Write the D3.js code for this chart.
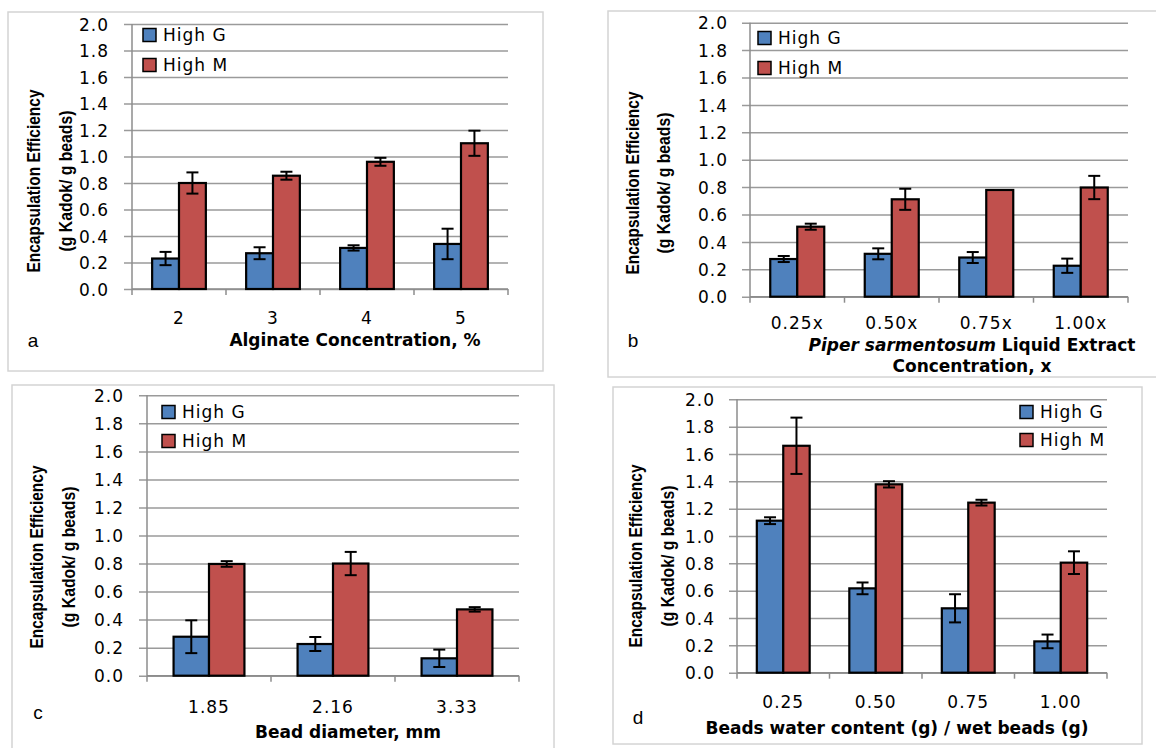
<!DOCTYPE html>
<html>
<head>
<meta charset="utf-8">
<script src="https://cdn.jsdelivr.net/npm/d3@7"></script>
<style>
  html, body { margin: 0; padding: 0; background: #fff; }
  .tick-txt { font-family: "DejaVu Sans", Verdana, sans-serif; font-size: 17px; letter-spacing: 1px; fill: #000; }
  .ax-title { font-family: "DejaVu Sans", Verdana, sans-serif; font-size: 17px; font-weight: bold; fill: #000; }
  .y-title { font-family: "Liberation Sans Narrow", "Arial Narrow", "Liberation Sans", sans-serif; font-size: 19px; font-weight: bold; fill: #000; }
  .panel-lbl { font-family: "Liberation Sans", Arial, sans-serif; font-size: 19px; fill: #000; }
</style>
</head>
<body>
<div id="chart"></div>
<script>
// series
var series_names= ["High G", "High M"];
var series_colors= ["#4F81BD", "#C0504D"];

// y ticks shared by all four panels
var y_ticks= [0.0, 0.2, 0.4, 0.6, 0.8, 1.0, 1.2, 1.4, 1.6, 1.8, 2.0];

// a - alginate concentration
var cats_a= ["2", "3", "4", "5"];
var high_g_a= [0.23, 0.27, 0.31, 0.34];
var high_m_a= [0.80, 0.855, 0.96, 1.10];
var err_g_a= [0.05, 0.045, 0.02, 0.115];
var err_m_a= [0.08, 0.03, 0.03, 0.095];

// b - extract concentration
var cats_b= ["0.25x", "0.50x", "0.75x", "1.00x"];
var high_g_b= [0.275, 0.313, 0.286, 0.226];
var high_m_b= [0.511, 0.711, 0.779, 0.797];
var err_g_b= [0.022, 0.04, 0.04, 0.052];
var err_m_b= [0.022, 0.077, 0, 0.085];

// c - bead diameter
var cats_c= ["1.85", "2.16", "3.33"];
var high_g_c= [0.278, 0.226, 0.124];
var high_m_c= [0.797, 0.80, 0.473];
var err_g_c= [0.117, 0.05, 0.062];
var err_m_c= [0.02, 0.083, 0.016];

// d - water content
var cats_d= ["0.25", "0.50", "0.75", "1.00"];
var high_g_d= [1.112, 0.617, 0.471, 0.229];
var high_m_d= [1.66, 1.378, 1.244, 0.805];
var err_g_d= [0.025, 0.043, 0.103, 0.05];
var err_m_d= [0.206, 0.023, 0.021, 0.083];


var svg= d3.select("#chart")
		.append("svg")
		.attr("width", 1156)
		.attr("height", 748);

svg.append("rect").attr("width", 1156).attr("height", 748).attr("fill", "#fff");

function draw_panel(p) {

	var g= svg.append("g");

	// outer frame
	g.append("rect")
		.attr("x", p.frame[0])
		.attr("y", p.frame[1])
		.attr("width", p.frame[2]- p.frame[0])
		.attr("height", p.frame[3]- p.frame[1])
		.attr("fill", "none")
		.attr("stroke", "#d4d4d4")
		.attr("stroke-width", 1.5);

	var y= d3.scaleLinear().domain([0, 2]).range([p.y0, p.y1]);
	var x= d3.scaleBand().domain(p.cats).range([p.x0, p.x1]).paddingInner(0).paddingOuter(0);

	var group_w= x.bandwidth()/ 1.75;
	var xs= d3.scaleBand().domain([0, 1]).range([-group_w/ 2, group_w/ 2]);

	// gridlines + y ticks
	var y_axis= d3.axisLeft(y)
		.tickValues(y_ticks)
		.tickSize(-(p.x1- p.x0))
		.tickFormat(d3.format(".1f"));

	var ya= g.append("g")
		.attr("transform", "translate(" + p.x0 + ",0)")
		.call(y_axis);
	ya.select(".domain").remove();
	ya.selectAll(".tick line")
		.attr("x1", -8)
		.attr("stroke", "#9a9a9a")
		.attr("stroke-width", 1.5);
	ya.selectAll(".tick text")
		.attr("class", "tick-txt")
		.attr("x", p.ylab_x- p.x0+ 1)
		.attr("dy", "0.36em");

	// y axis line
	g.append("line")
		.attr("x1", p.x0).attr("x2", p.x0)
		.attr("y1", p.y1).attr("y2", p.y0)
		.attr("stroke", "#8c8c8c").attr("stroke-width", 1.5);

	// x axis line + ticks between categories
	var x_axis= d3.axisBottom(x).tickSize(0).tickFormat("");
	var xa= g.append("g")
		.attr("transform", "translate(0," + p.y0 + ")")
		.call(x_axis);
	xa.select(".domain")
		.attr("d", "M" + p.x0 + ",0H" + p.x1)
		.attr("stroke", "#8c8c8c").attr("stroke-width", 1.5);

	var bounds= p.cats.map(function(c) { return x(c); }).concat([p.x1]);
	g.selectAll(".xtick")
		.data(bounds)
		.enter().append("line")
		.attr("x1", function(d) { return d; })
		.attr("x2", function(d) { return d; })
		.attr("y1", p.y0)
		.attr("y2", p.y0+ 6)
		.attr("stroke", "#8c8c8c").attr("stroke-width", 1.5);

	g.selectAll(".xlab")
		.data(p.cats)
		.enter().append("text")
		.attr("class", "tick-txt")
		.attr("x", function(d) { return x(d)+ x.bandwidth()/ 2; })
		.attr("y", p.xlab_y)
		.attr("dy", "0.36em")
		.attr("text-anchor", "middle")
		.text(function(d) { return d; });

	// bars
	var rows= [];
	p.cats.forEach(function(c, i) {
		rows.push({cat: c, s: 0, v: p.g[i], e: p.eg[i]});
		rows.push({cat: c, s: 1, v: p.m[i], e: p.em[i]});
	});

	g.selectAll(".bar")
		.data(rows)
		.enter().append("rect")
		.attr("x", function(d) { return x(d.cat)+ x.bandwidth()/ 2+ xs(d.s); })
		.attr("y", function(d) { return y(d.v); })
		.attr("width", xs.bandwidth())
		.attr("height", function(d) { return y(0)- y(d.v); })
		.attr("fill", function(d) { return series_colors[d.s]; })
		.attr("stroke", "#000")
		.attr("stroke-width", 2.2);

	// error bars
	var errs= rows.filter(function(d) { return d.e> 0; });
	var ex= function(d) { return x(d.cat)+ x.bandwidth()/ 2+ xs(d.s)+ xs.bandwidth()/ 2; };
	var eb= g.selectAll(".err")
		.data(errs)
		.enter().append("g")
		.attr("stroke", "#000")
		.attr("stroke-width", 2);
	eb.append("line")
		.attr("x1", ex).attr("x2", ex)
		.attr("y1", function(d) { return y(d.v+ d.e); })
		.attr("y2", function(d) { return y(d.v- d.e); });
	eb.append("line")
		.attr("x1", function(d) { return ex(d)- 6; })
		.attr("x2", function(d) { return ex(d)+ 6; })
		.attr("y1", function(d) { return y(d.v+ d.e); })
		.attr("y2", function(d) { return y(d.v+ d.e); });
	eb.append("line")
		.attr("x1", function(d) { return ex(d)- 6; })
		.attr("x2", function(d) { return ex(d)+ 6; })
		.attr("y1", function(d) { return y(d.v- d.e); })
		.attr("y2", function(d) { return y(d.v- d.e); });

	// legend
	for ((i= 0); (i< 2); (i++)) {
		g.append("rect")
			.attr("x", p.leg_x)
			.attr("y", p.leg_y[i]- 6.5)
			.attr("width", 13)
			.attr("height", 13)
			.attr("fill", series_colors[i])
			.attr("stroke", "#000")
			.attr("stroke-width", 1.5);
		g.append("text")
			.attr("class", "tick-txt")
			.attr("x", p.leg_x+ 20)
			.attr("y", p.leg_y[i])
			.attr("dy", "0.36em")
			.text(series_names[i]);
	}

	// y title, two lines
	g.append("text")
		.attr("class", "y-title")
		.attr("transform", "translate(" + p.yt_x[0] + "," + p.yt_y + ") rotate(-90)")
		.attr("text-anchor", "middle")
		.attr("dy", "0.35em")
		.attr("textLength", 183)
		.attr("lengthAdjust", "spacingAndGlyphs")
		.text("Encapsulation Efficiency");
	g.append("text")
		.attr("class", "y-title")
		.attr("transform", "translate(" + p.yt_x[1] + "," + p.yt_y + ") rotate(-90)")
		.attr("text-anchor", "middle")
		.attr("dy", "0.35em")
		.attr("textLength", 141)
		.attr("lengthAdjust", "spacingAndGlyphs")
		.text("(g Kadok/ g beads)");

	// x title
	p.xt.forEach(function(line, k) {
		var t= g.append("text")
			.attr("class", "ax-title")
			.attr("x", p.xt_x)
			.attr("y", p.xt_y[k])
			.attr("dy", "0.36em")
			.attr("text-anchor", "middle");
		line.forEach(function(part) {
			t.append("tspan")
				.attr("font-style", part[1] ? "italic" : "normal")
				.text(part[0]);
		});
	});

	// panel letter
	g.append("text")
		.attr("class", "panel-lbl")
		.attr("x", p.lbl[0])
		.attr("y", p.lbl[1])
		.attr("dy", "0.36em")
		.attr("text-anchor", "middle")
		.text(p.letter);
}

draw_panel({
	frame: [8, 12, 543, 371], x0: 132, x1: 508, y0: 289, y1: 24,
	cats: cats_a, g: high_g_a, m: high_m_a, eg: err_g_a, em: err_m_a,
	ylab_x: 108, xlab_y: 318, leg_x: 143, leg_y: [35, 65],
	yt_x: [33, 65], yt_y: 181,
	xt: [[["Alginate Concentration, %", false]]], xt_x: 355, xt_y: [340],
	lbl: [33, 340], letter: "a"
});

draw_panel({
	frame: [608, 11, 1162, 377], x0: 750, x1: 1128, y0: 296.7, y1: 22.7,
	cats: cats_b, g: high_g_b, m: high_m_b, eg: err_g_b, em: err_m_b,
	ylab_x: 727, xlab_y: 323, leg_x: 758, leg_y: [38, 68],
	yt_x: [632, 663], yt_y: 183,
	xt: [[["Piper sarmentosum", true], [" Liquid Extract", false]], [["Concentration, x", false]]],
	xt_x: 972, xt_y: [345, 366],
	lbl: [633, 340], letter: "b"
});

draw_panel({
	frame: [12, 385, 554, 760], x0: 147, x1: 519, y0: 675.7, y1: 395.3,
	cats: cats_c, g: high_g_c, m: high_m_c, eg: err_g_c, em: err_m_c,
	ylab_x: 123, xlab_y: 707, leg_x: 162, leg_y: [412, 441],
	yt_x: [36, 68], yt_y: 557,
	xt: [[["Bead diameter, mm", false]]], xt_x: 348, xt_y: [732],
	lbl: [38, 712], letter: "c"
});

draw_panel({
	frame: [613, 387, 1142, 744], x0: 737, x1: 1107, y0: 672.7, y1: 399.3,
	cats: cats_d, g: high_g_d, m: high_m_d, eg: err_g_d, em: err_m_d,
	ylab_x: 714, xlab_y: 702, leg_x: 1020, leg_y: [412, 440],
	yt_x: [635, 667], yt_y: 556,
	xt: [[["Beads water content (g) / wet beads (g)", false]]], xt_x: 897, xt_y: [728],
	lbl: [638, 717], letter: "d"
});
</script>
</body>
</html>
